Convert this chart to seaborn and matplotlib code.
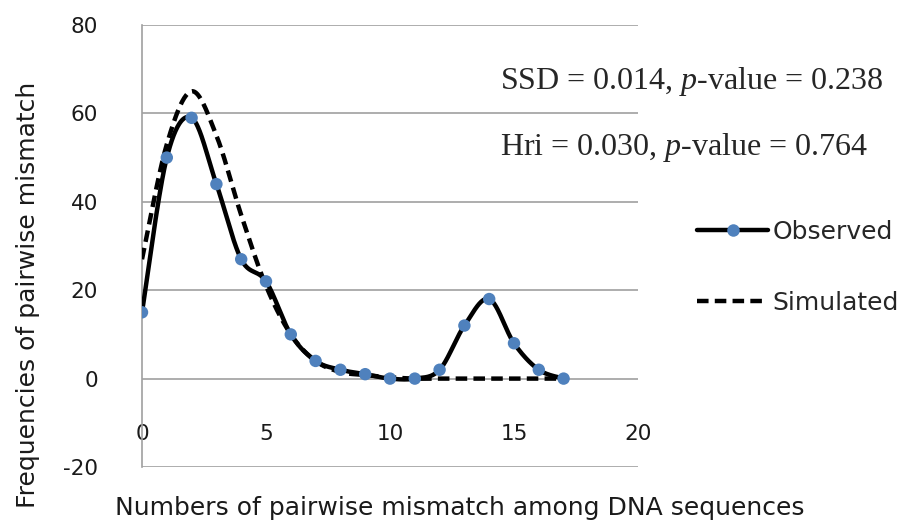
import numpy as np
import pandas as pd
import matplotlib
matplotlib.use("Agg")
import matplotlib.pyplot as plt
import seaborn as sns
from matplotlib.lines import Line2D

mismatch = list(range(18))
observed = [15, 50, 59, 44, 27, 22, 10, 4, 2, 1, 0, 0, 2, 12, 18, 8, 2, 0]
simulated = [27, 53, 65, 55, 37, 21, 10, 4, 1.5, 0.8, 0.3, 0, 0, 0, 0, 0, 0, 0]
xticks = [0, 5, 10, 15, 20]
yticks = [-20, 0, 20, 40, 60, 80]
stats_text = ["SSD = 0.014, $\\it{p}$-value = 0.238", "Hri = 0.030, $\\it{p}$-value = 0.764"]


def smooth(x, y, n=40):
    P = np.column_stack([x, y]).astype(float)
    out = []
    for i in range(len(P) - 1):
        p0 = P[i - 1] if i > 0 else P[i]
        p1, p2 = P[i], P[i + 1]
        p3 = P[i + 2] if i + 2 < len(P) else P[i + 1]
        c1 = p1 + (p2 - p0) / 6
        c2 = p2 - (p3 - p1) / 6
        t = np.linspace(0, 1, n, endpoint=False)[:, None]
        out.append((1 - t) ** 3 * p1 + 3 * (1 - t) ** 2 * t * c1 + 3 * (1 - t) * t ** 2 * c2 + t ** 3 * p2)
    out.append(P[-1:])
    return np.vstack(out)


sns.set_style("white")
plt.rcParams["font.family"] = ["DejaVu Sans"]
plt.rcParams["mathtext.fontset"] = "custom"
plt.rcParams["mathtext.it"] = "Liberation Serif:italic"
plt.rcParams["mathtext.rm"] = "Liberation Serif"

fig = plt.figure(figsize=(9.04, 5.27), dpi=100)
ax = fig.add_axes([142 / 904, 1 - 467 / 527, (638 - 142) / 904, (467 - 25) / 527])

obs_s = smooth(mismatch, observed)
sim_s = smooth(mismatch, simulated)
df_obs = pd.DataFrame({"x": obs_s[:, 0], "y": obs_s[:, 1]})
df_sim = pd.DataFrame({"x": sim_s[:, 0], "y": sim_s[:, 1]})
df_pts = pd.DataFrame({"x": mismatch, "y": observed})

sns.lineplot(data=df_obs, x="x", y="y", sort=False, estimator=None, color="black", linewidth=3.2, ax=ax, zorder=3)
sns.lineplot(data=df_sim, x="x", y="y", sort=False, estimator=None, color="black", linewidth=3.2,
             linestyle=(0, (2.6, 1.4)), ax=ax, zorder=4)
sns.scatterplot(data=df_pts, x="x", y="y", color="#4F81BD", s=80, edgecolor="none", ax=ax, zorder=5)

for s in ["top", "right"]:
    ax.spines[s].set_visible(False)
ax.spines["left"].set_color("#a0a0a0")
ax.spines["left"].set_linewidth(1.2)
ax.spines["bottom"].set_position(("data", 0))
ax.spines["bottom"].set_visible(False)

ax.set_xlim(0, 20)
ax.set_ylim(-20, 80)
ax.set_xticks(xticks)
ax.set_yticks(yticks)
ax.set_xticklabels([str(v) for v in xticks])
ax.set_yticklabels([str(v) for v in yticks])
ax.tick_params(axis="x", length=0, pad=33, labelsize=15.5, labelcolor="#1a1a1a")
ax.tick_params(axis="y", length=0, pad=31.5, labelsize=15.5, labelcolor="#1a1a1a")
ax.grid(axis="y", color="#a0a0a0", linewidth=1.2)
ax.grid(axis="x", visible=False)
ax.set_axisbelow(True)
ax.set_xlabel("")
ax.set_ylabel("")

fig.text(28 / 904, 1 - 295 / 527, "Frequencies of pairwise mismatch", rotation=90, fontsize=18,
         ha="center", va="center", color="#1a1a1a")
fig.text(460 / 904, 1 - 508 / 527, "Numbers of pairwise mismatch among DNA sequences", fontsize=18,
         ha="center", va="center", color="#1a1a1a")

fig.text(500 / 904, 1 - 82 / 527, stats_text[0], fontsize=23, family="Liberation Serif", ha="left", va="center")
fig.text(500 / 904, 1 - 147 / 527, stats_text[1], fontsize=23, family="Liberation Serif", ha="left", va="center")

handles = [
    Line2D([], [], color="black", linewidth=3.2, marker="o", markersize=9, markerfacecolor="#4F81BD",
           markeredgecolor="none"),
    Line2D([], [], color="black", linewidth=3.2, linestyle=(0, (2.6, 1.4))),
]
fig.legend(handles, ["Observed", "Simulated"], loc="upper left", bbox_to_anchor=(697 / 904, 1 - 220 / 527),
           frameon=False, fontsize=18, handlelength=2.85, handletextpad=0.16, labelspacing=1.87,
           borderpad=0, borderaxespad=0)

fig.savefig("out.png", dpi=100)
